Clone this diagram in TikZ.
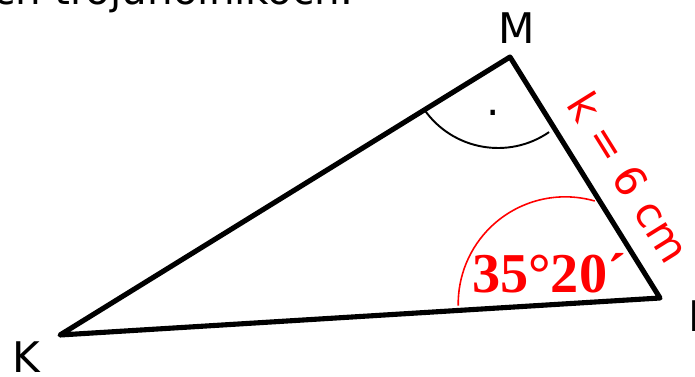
\documentclass[tikz,border=0pt]{standalone}
\usepackage{fontspec}
\setmainfont{DejaVu Sans}
\newfontfamily\anglefont{Liberation Serif}
\usetikzlibrary{calc}
\definecolor{mark}{RGB}{255, 0, 0}

\begin{document}
\begin{tikzpicture}[
    x=0.01cm, y=0.01cm,
    side/.style={line width=1.45pt, line join=round, line cap=round},
    rightarc/.style={line width=0.55pt},
    anglearc/.style={line width=0.45pt, draw=mark},
    vlbl/.style={font=\fontsize{12}{14}\selectfont, inner sep=0pt},
    sidelbl/.style={font=\fontsize{12}{14}\selectfont, text=mark, inner sep=0pt},
    anglelbl/.style={font=\anglefont\bfseries\fontsize{16}{19}\selectfont, text=mark, inner sep=0pt}
]
\path[use as bounding box, clip] (0,0) rectangle (695,376);

% === cut-off text line above ===
\node[font=\fontsize{11.5}{13}\selectfont, inner sep=0pt, anchor=base east] (head) at (354,371) {ých trojuholníkoch.};

% === Triangle ===
\coordinate (K) at (60,41);
\coordinate (L) at (660,78);
\coordinate (M) at (510,319);
\draw[side] (K) -- (L) -- (M) -- cycle;

% === Right angle at M ===
\coordinate (r) at (498,318);
\draw[rightarc] ([shift={(215:90)}]r) arc (215:304.6:90);
\node[vlbl] (dot) at (493,263) {.};

% === Angle at L ===
\coordinate (c) at ($(L)!0.158!(K)$);
\draw[anglearc] ([shift={(74:107)}]c) arc (74:181:107);
\node[anglelbl] (alpha) at (549,103) {35°20´};

% === Labels ===
\node[vlbl] (lM) at (517,348) {M};
\node[vlbl] (lK) at (26,19) {K};
\node[vlbl, anchor=west] (lL) at (688,60) {L};
\node[sidelbl, rotate=-58.1] (k) at (629,199) {k = 6 cm};

\end{tikzpicture}
\end{document}
